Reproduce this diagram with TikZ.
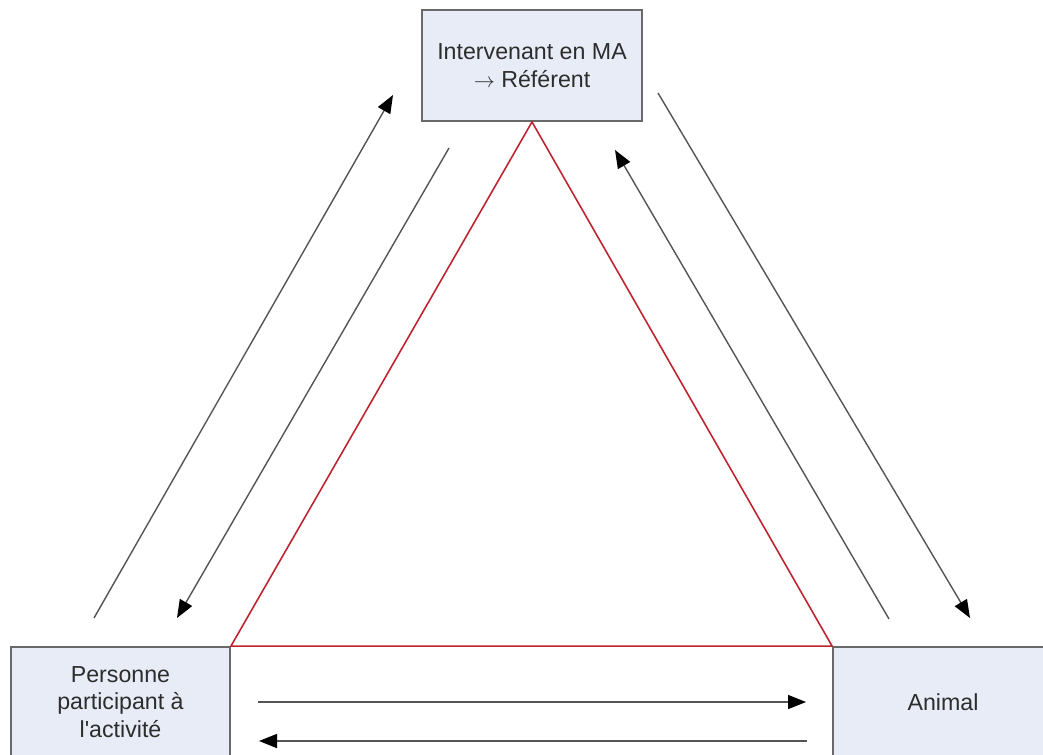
\documentclass[tikz,border=0pt]{standalone}
\usepackage{fontspec}
\setmainfont{Liberation Sans}
\usetikzlibrary{arrows.meta}
\definecolor{boxfill}{RGB}{231,236,246}
\definecolor{boxline}{RGB}{105,105,105}
\definecolor{redline}{RGB}{190,35,48}
\definecolor{arrowgray}{RGB}{85,85,85}
\definecolor{textgray}{RGB}{45,45,45}
\begin{document}
\begin{tikzpicture}[x=0.02cm,y=-0.02cm,
    role/.style={draw=boxline,fill=boxfill,line width=1.1pt,minimum width=4.4cm,
      align=center,text=textgray,font=\fontsize{13.2}{15.6}\selectfont},
    flow/.style={draw=arrowgray,line width=0.8pt,
      -{Triangle[length=0.36cm,width=0.28cm,color=black]}}]
      \useasboundingbox (0,0) rectangle (1043,754);
      \clip (0,0) rectangle (1043,754);
      \node[role,minimum height=2.22cm] (ref) at (532,65.5)
        {Intervenant en MA\\$\rightarrow$ Référent};
      \node[role,minimum height=2.2cm,minimum width=4.38cm] (pers) at (120.5,702)
        {Personne\\participant à\\l\textquotesingle activité};
      \node[role,minimum height=2.2cm] (ani) at (943,702) {Animal};
      \draw[redline,line width=0.9pt] (ref.south) -- (pers.north east) -- (ani.north west) -- cycle;
      \coordinate (lu0) at (94,618);  \coordinate (lu1) at (393,95);
      \coordinate (ld0) at (449,148); \coordinate (ld1) at (177,618);
      \coordinate (rd0) at (658,93);  \coordinate (rd1) at (970,618);
      \coordinate (ru0) at (889,619); \coordinate (ru1) at (615,150);
      \coordinate (bh0) at (258,702); \coordinate (bh1) at (806,702);
      \coordinate (bb0) at (807,741); \coordinate (bb1) at (259,741);
      \begin{scope}[flow]
        \draw (lu0) to (lu1);
        \draw (ld0) to (ld1);
        \draw (rd0) to (rd1);
        \draw (ru0) to (ru1);
        \draw (bh0) to (bh1);
        \draw (bb0) to (bb1);
      \end{scope}
    \end{tikzpicture}
\end{document}
